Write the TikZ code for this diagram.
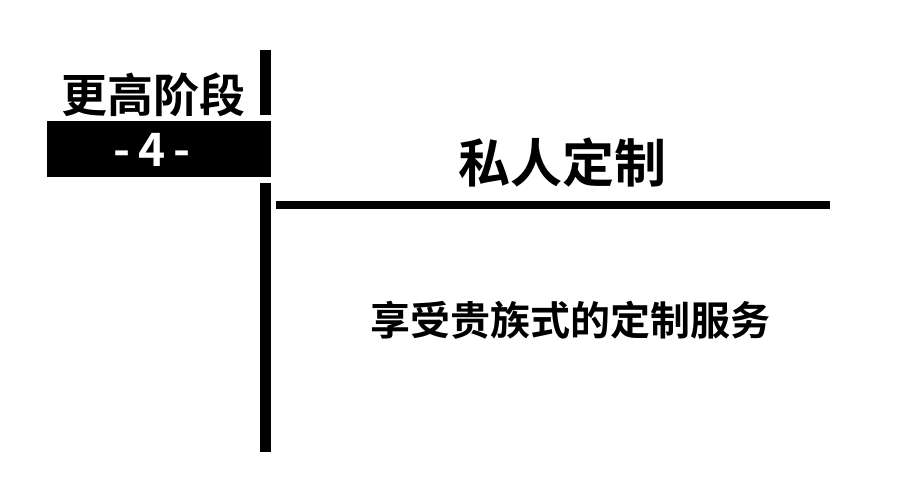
\documentclass[tikz,border=0pt]{standalone}
\usepackage{fontspec}
\newfontfamily\cjk{Noto Sans CJK SC Bold}
\begin{document}
\begin{tikzpicture}[x=1pt,y=-1pt,
  bar/.style={fill=black,draw=none},
  txt/.style={font=\cjk,text=black,inner sep=0pt}]
\useasboundingbox (0,0) rectangle (900,500);
\fill[white] (0,0) rectangle (900,500);
\path[bar] (260,50) rectangle (271,115);
\path[bar] (47,121) rectangle (271,177);
\path[bar] (260,183) rectangle (271,452);
\path[bar] (276,201) rectangle (830,209);
\node[txt,font=\cjk\fontsize{46}{46}\selectfont] (stage) at (153,95) {更高阶段};
\node[txt,text=white,font=\cjk\fontsize{46}{46}\selectfont] (num) at (152,150) {-\,4\,-};
\node[txt,font=\cjk\fontsize{52}{52}\selectfont] (title) at (562,163) {私人定制};
\node[txt,font=\cjk\fontsize{40}{40}\selectfont] (sub) at (570,320) {享受贵族式的定制服务};
\end{tikzpicture}
\end{document}
